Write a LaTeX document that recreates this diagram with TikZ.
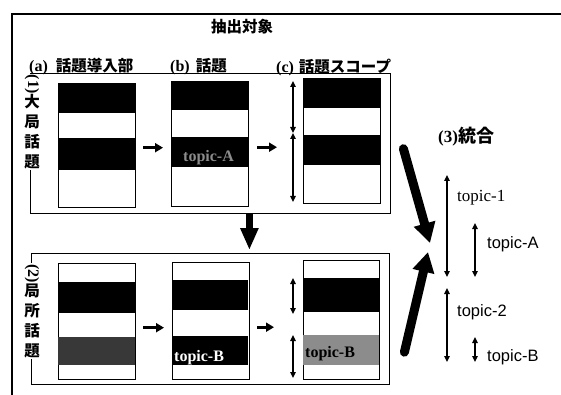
\documentclass[tikz,border=0pt]{standalone}
\usepackage{fontspec}
\usepackage{graphicx}
\setmainfont{Liberation Serif}
\newfontfamily\jp{Noto Sans CJK JP}
\newfontfamily\tsans{Liberation Sans}
\usetikzlibrary{arrows.meta,calc}
\begin{document}
\begin{tikzpicture}[x=1pt,y=-1pt,
  frame/.style={draw,line width=1.4pt,inner sep=0pt,anchor=north west},
  panel/.style={draw,line width=1.4pt,fill=white,inner sep=0pt,anchor=north west,minimum width=77pt},
  band/.style={fill=black,inner sep=0pt,anchor=north west,minimum width=77pt},
  smallarr/.style={-{Triangle[length=8pt,width=9pt]},line width=2.8pt},
  dblarr/.style={{Triangle[length=6pt,width=5.5pt]}-{Triangle[length=6pt,width=5.5pt]},line width=1.3pt},
  bigarr/.style={-{Triangle[length=20pt,width=21pt]},line width=9pt,line cap=round},
  downarr/.style={-{Triangle[length=22pt,width=17pt]},line width=7pt},
  lbl/.style={inner sep=0pt,anchor=west},
  vtext/.style={fill=white,inner sep=1pt,align=center,font=\jp\bfseries\fontsize{15.5}{20}\selectfont},
  bandtxt/.style={inner sep=0pt,anchor=base west,font=\bfseries\fontsize{16}{18}\selectfont},
  topicser/.style={inner sep=0pt,anchor=base west,font=\fontsize{17}{19}\selectfont},
  topicsan/.style={inner sep=0pt,anchor=base west,font=\tsans\fontsize{16.5}{19}\selectfont}
]
\useasboundingbox (0,0) rectangle (561,395);

% outer frame
\coordinate (o1) at (12,395);
\coordinate (o2) at (12,14);
\coordinate (o3) at (561,14);
\draw[line width=1.4pt] (o1) -- (o2) -- (o3);

% title and column labels
\node[font=\jp\bfseries\fontsize{15.5}{17}\selectfont,inner sep=0pt] (title) at (242,27) {抽出対象};
\node[lbl] (la) at (29,67) {{\bfseries\fontsize{16}{18}\selectfont(a)}\hspace{8pt}{\jp\bfseries\fontsize{15.5}{17}\selectfont 話題導入部}};
\node[lbl] (lb) at (170,67) {{\bfseries\fontsize{16}{18}\selectfont(b)}\hspace{6pt}{\jp\bfseries\fontsize{15.5}{17}\selectfont 話題}};
\node[lbl] (lc) at (276,67) {{\bfseries\fontsize{16}{18}\selectfont(c)}\hspace{5pt}{\jp\bfseries\fontsize{15.5}{17}\selectfont 話題スコープ}};

% upper box
\node[frame,minimum width=360pt,minimum height=140pt] (ubox) at (30,73) {};
\node[vtext] (v1) at (32,122) {{\rmfamily\bfseries\fontsize{16}{18}\selectfont\rotatebox{-90}{(1)}}\\大\\局\\話\\題};

% upper panels
\node[panel,minimum height=124pt] (ua) at (58,83) {};
\node[band,minimum height=30pt] (ua1) at (58,83) {};
\node[band,minimum height=32pt] (ua2) at (58,138) {};

\node[panel,minimum height=125pt] (ub) at (171,81) {};
\node[band,minimum height=29pt] (ub1) at (171,81) {};
\node[band,minimum height=30pt] (ub2) at (171,137) {};
\node[bandtxt,text=black!45] (ubt) at (183,162) {topic-A};

\node[panel,minimum height=125pt] (uc) at (303,78) {};
\node[band,minimum height=30pt] (uc1) at (303,78) {};
\node[band,minimum height=30pt] (uc2) at (303,135) {};

\draw[smallarr] ($(ua.east)+(7,2)$) -- ($(ua.east -| ub.west)+(-8,2)$);
\draw[smallarr] ($(ub.east)+(8,3)$) -- ($(ub.east -| uc.west)+(-26,3)$);
\draw[dblarr] ($(uc.north west)+(-10,3)$) -- ($(uc.north west)+(-10,55)$);
\draw[dblarr] ($(uc.north west)+(-10,55)$) -- ($(uc.north west)+(-10,124)$);

% lower box
\node[frame,minimum width=358pt,minimum height=131pt] (lbox) at (31,253) {};
\node[vtext] (v2) at (32,311) {{\rmfamily\bfseries\fontsize{16}{18}\selectfont\rotatebox{-90}{(2)}}\\局\\所\\話\\題};

\node[panel,minimum height=116pt] (lpa) at (58,263) {};
\node[band,minimum height=31pt] (lpa1) at (58,282) {};
\node[band,minimum height=28pt,fill=black!78] (lpa2) at (58,337) {};

\node[panel,minimum height=117pt] (lpb) at (172,262) {};
\node[band,minimum height=30pt,minimum width=76pt] (lpb1) at (172,280) {};
\node[band,minimum height=29pt,minimum width=76pt] (lpb2) at (172,336) {};
\node[bandtxt,text=white] (lpbt) at (174,361) {topic-B};

\node[panel,minimum height=119pt,minimum width=76pt] (lpc) at (303,260) {};
\node[band,minimum height=34pt,minimum width=76pt] (lpc1) at (303,278) {};
\node[band,minimum height=30pt,minimum width=76pt,fill=black!45] (lpc2) at (303,335) {};
\node[bandtxt,text=black] (lpct) at (305,357) {topic-B};

\draw[smallarr] ($(lpa.east)+(7,6)$) -- ($(lpa.east -| lpb.west)+(-8,6)$);
\draw[smallarr] ($(lpb.east)+(7,6)$) -- ($(lpb.east -| lpc.west)+(-29,6)$);
\draw[dblarr] ($(lpc.north west)+(-10,18)$) -- ($(lpc.north west)+(-10,54)$);
\draw[dblarr] ($(lpc.north west)+(-10,75)$) -- ($(lpc.north west)+(-10,118)$);

% down arrow between boxes
\draw[downarr,shorten >=3pt] (ubox.south -| ub.south east) -- (lbox.north -| ub.south east);

% integration
\node[inner sep=0pt,anchor=base west] (integ) at (438,143) {{\bfseries\fontsize{17}{19}\selectfont(3)}{\jp\bfseries\fontsize{18}{20}\selectfont 統合}};
\coordinate (t1a) at (447,175);
\coordinate (t1b) at (447,277);
\coordinate (tAa) at (475,223);
\coordinate (tAb) at (475,277);
\coordinate (t2a) at (447,288);
\coordinate (t2b) at (447,362);
\coordinate (tBa) at (475,337);
\coordinate (tBb) at (475,362);
\draw[dblarr] (t1a) -- (t1b);
\draw[dblarr] (tAa) -- (tAb);
\draw[dblarr] (t2a) -- (t2b);
\draw[dblarr] (tBa) -- (tBb);
\node[topicser] (n1) at (457,201) {topic-1};
\node[topicsan] (nA) at (487,248) {topic-A};
\node[topicsan] (n2) at (457,316) {topic-2};
\node[topicsan] (nB) at (487,361) {topic-B};

% big arrows
\coordinate (tip1) at (430,243);
\coordinate (tip2) at (428,252);
\draw[bigarr] ($(ubox.east)+(12,5)$) -- (tip1);
\draw[bigarr] ($(lbox.east)+(14,33)$) -- (tip2);
\end{tikzpicture}
\end{document}
